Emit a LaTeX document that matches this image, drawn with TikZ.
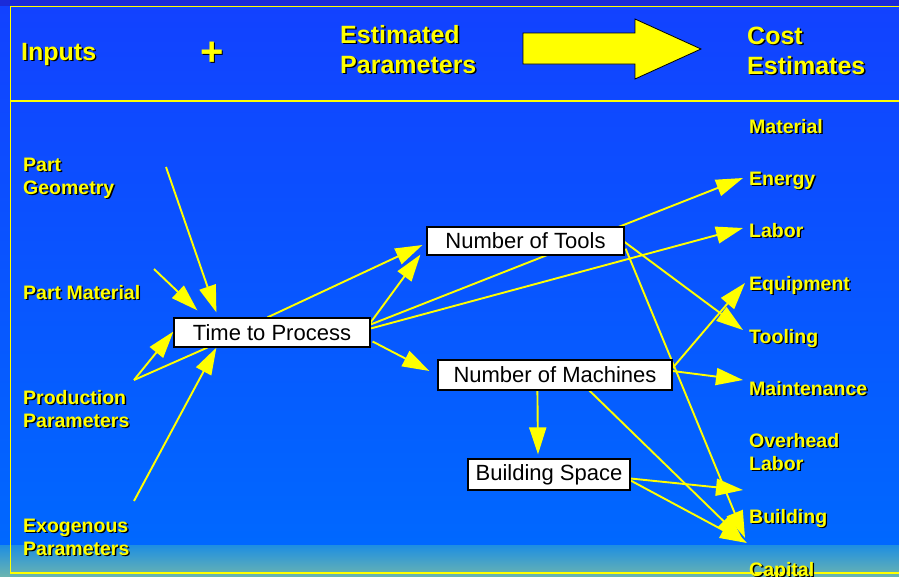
\documentclass[tikz,border=0pt]{standalone}
\usepackage{fontspec}
\setmainfont{Liberation Sans}
\usetikzlibrary{arrows.meta,calc}
\definecolor{ylw}{HTML}{FFFF00}
\definecolor{topstrip}{HTML}{1A2BD9}
\definecolor{bgtop}{HTML}{1242FF}
\definecolor{bgbot}{HTML}{0068FF}
\definecolor{bandtop}{HTML}{1E8EE2}
\definecolor{bandbot}{HTML}{6AB4B0}
\newcommand\shd[1]{\leavevmode\rlap{\kern1.4pt\raisebox{-1.4pt}{\color{black}#1}}#1}
\pgfdeclarelayer{bg}
\pgfdeclarelayer{edges}
\pgfsetlayers{bg,edges,main}
\tikzset{
  hdr/.style={text=ylw, inner sep=0pt, anchor=base west, align=left,
    font=\fontsize{25}{30}\selectfont\bfseries},
  lbl/.style={text=ylw, inner sep=0pt, anchor=base west, align=left,
    font=\fontsize{19.5}{23}\selectfont\bfseries},
  pbox/.style={draw=black, line width=1.2pt, fill=white, inner sep=0pt,
    font=\fontsize{22}{26}\selectfont},
  conn/.style={draw=ylw, line width=1.9pt,
    -{Triangle[length=27pt,width=17pt]}},
  plain/.style={draw=ylw, line width=1.9pt},
}
\begin{document}
\begin{tikzpicture}[x=1pt,y=-1pt]
\useasboundingbox (0,0) rectangle (899,576);
\begin{pgfonlayer}{bg}
  \fill[topstrip] (0,0) rectangle (899,6.5);
  \shade[top color=bgtop, bottom color=bgbot] (0,6.5) rectangle (899,545);
  \shade[top color=bandtop, bottom color=bandbot] (0,545) rectangle (899,576);
  \draw[ylw, line width=1.5pt] (905,6.5) -- (10.5,6.5) -- (10.5,573) -- (905,573);
  \draw[ylw, line width=1.2pt] (10.5,101) -- (905,101);
  % header arrow
  \draw[fill=ylw, draw=black, line width=0.8pt]
    (523,33) -- (635,33) -- (635,19) -- (701,49) -- (635,79) -- (635,64) -- (523,64) -- cycle;
\end{pgfonlayer}

% header texts
\node[hdr] (inputs) at (21,60) {\shd{Inputs}};
\node[text=ylw, inner sep=0pt, font=\fontsize{40}{40}\selectfont\bfseries] (plus) at (212,54) {\shd{+}};
\node[hdr] (estpar) at (340,73) {\shd{Estimated}\\\shd{Parameters}};
\node[hdr] (costest) at (747,74) {\shd{Cost}\\\shd{Estimates}};

% left labels
\node[lbl] (geo) at (23,194) {\shd{Part}\\\shd{Geometry}};
\node[lbl] (mat) at (23,299) {\shd{Part Material}};
\node[lbl] (prod) at (23,427) {\shd{Production}\\\shd{Parameters}};
\node[lbl] (exo) at (23,555) {\shd{Exogenous}\\\shd{Parameters}};

% right labels
\node[lbl] (material) at (749,133) {\shd{Material}};
\node[lbl] (energy) at (749,185) {\shd{Energy}};
\node[lbl] (labor) at (749,237) {\shd{Labor}};
\node[lbl] (equip) at (749,290) {\shd{Equipment}};
\node[lbl] (tooling) at (749,343) {\shd{Tooling}};
\node[lbl] (maint) at (749,395) {\shd{Maintenance}};
\node[lbl] (ovh) at (749,470) {\shd{Overhead}\\\shd{Labor}};
\node[lbl] (bldg) at (749,523) {\shd{Building}};
\node[lbl] (capital) at (749,576) {\shd{Capital}};

% boxes
\node[pbox, minimum width=196pt, minimum height=29pt] (ttp) at (272,332.5) {Time to Process};
\node[pbox, minimum width=197pt, minimum height=28pt] (tools) at (525.5,241) {Number of Tools};
\node[pbox, minimum width=234pt, minimum height=30pt] (mach) at (555,375) {Number of Machines};
\node[pbox, minimum width=162pt, minimum height=31pt] (bspace) at (549,474.5) {Building Space};

% free start points
\coordinate (g1) at (166,167);
\coordinate (m1) at (154,269);
\coordinate (p1) at (134,380);
\coordinate (e1) at (134,501);

\begin{pgfonlayer}{edges}
  \draw[conn] (g1) -- ($(ttp.north west)+(43,-5)$);
  \draw[conn] (m1) -- ($(ttp.north west)+(24,-7)$);
  \draw[conn] (p1) -- ($(ttp.west)+(0,-1)$);
  \draw[plain] (p1) -- ($(ttp.south west)+(34,0)$);
  \draw[conn] (e1) -- ($(ttp.south west)+(43,0)$);

  \draw[conn] ($(ttp.north west)+(94,0)$) -- ($(tools.west)+(-4,4)$);
  \draw[conn] ($(ttp.east)+(0,-10)$) -- ($(tools.south west)+(-6,-1)$);
  \draw[conn] ($(ttp.east)+(0,-8)$) -- ($(energy.base west)+(-6,-7)$);
  \draw[conn] ($(ttp.east)+(0,-4)$) -- ($(labor.base west)+(-6,-9)$);
  \draw[conn] ($(ttp.east)+(2,9)$) -- ($(mach.west)+(-8,-4)$);

  \draw[conn] ($(tools.east)+(0,1)$) -- ($(tooling.base west)+(-6,-13)$);
  \draw[conn] ($(tools.south east)+(1,-7)$) -- ($(bldg.base west)+(-4,15)$);

  \draw[conn] ($(mach.east)+(0,-7)$) -- ($(equip.base west)+(-4,-7)$);
  \draw[conn] ($(mach.east)+(0,-4)$) -- ($(maint.base west)+(-6,-15)$);
  \draw[conn] ($(mach.south west)+(100,0)$) -- ($(bspace.north)+(-11,-4)$);
  \draw[conn] ($(mach.south west)+(152,0)$) -- ($(bldg.base west)+(-6,17)$);

  \draw[conn] ($(bspace.east)+(0,4)$) -- ($(bldg.base west)+(-6,-33)$);
  \draw[conn] ($(bspace.east)+(0,6)$) -- ($(bldg.base west)+(-2,20)$);
\end{pgfonlayer}
\end{tikzpicture}
\end{document}
